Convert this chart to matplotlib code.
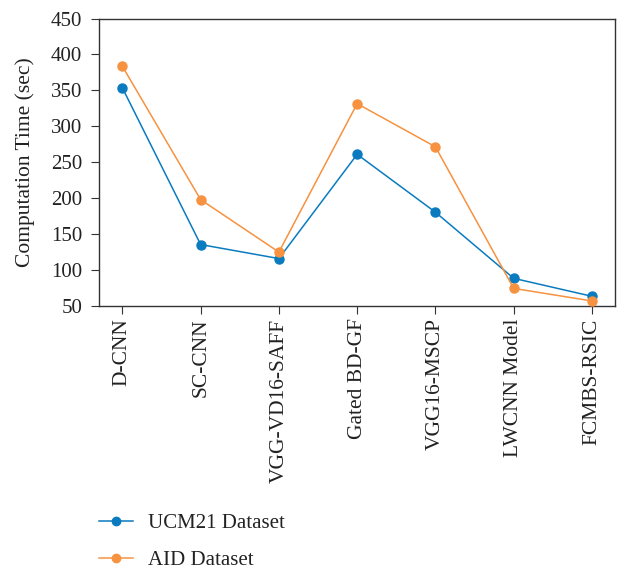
import matplotlib
matplotlib.use("Agg")
import matplotlib.pyplot as plt
from matplotlib.lines import Line2D

categories = ["D-CNN", "SC-CNN", "VGG-VD16-SAFF", "Gated BD-GF", "VGG16-MSCP", "LWCNN Model", "FCMBS-RSIC"]
ucm21 = [353.5, 135.5, 116, 261, 180.5, 88.5, 63.5]
aid = [383.5, 198, 125, 331.5, 271.5, 74.5, 57]
series_names = ["UCM21 Dataset", "AID Dataset"]

plt.rcParams['font.family'] = ['Liberation Serif', 'DejaVu Serif']

fig = plt.figure(figsize=(6.22, 5.71), dpi=100)
ax = fig.add_axes([0.159, 0.4641, 0.8304, 0.5035])

blue = "#0a7bbf"
orange = "#f69240"
x = list(range(len(categories)))
ax.plot(x, ucm21, color=blue, marker='o', markersize=6.5, linewidth=1.1, label=series_names[0], zorder=3)
ax.plot(x, aid, color=orange, marker='o', markersize=6.5, linewidth=1.1, label=series_names[1], zorder=3)

ax.set_xlim(-0.3, 6.3)
ax.set_ylim(50, 450)
ax.set_yticks(range(50, 451, 50))
ax.set_xticks(x)
ax.set_xticklabels(categories, rotation=90, fontsize=15.5)
ax.tick_params(axis='y', labelsize=15, direction='out', length=5.5, pad=6.5, color='#333333')
ax.tick_params(axis='x', direction='out', length=5.5, color='#333333')
for t in ax.get_xticklabels() + ax.get_yticklabels():
    t.set_color('#222222')
for s in ax.spines.values():
    s.set_color('#333333')
    s.set_linewidth(1.0)
ax.set_ylabel("Computation Time (sec)", fontsize=15.5, color='#222222', labelpad=11.5)

handles = [Line2D([0], [0], color=blue, marker='o', markersize=6, linewidth=1.1),
           Line2D([0], [0], color=orange, marker='o', markersize=6, linewidth=1.1)]
fig.legend(handles, series_names, loc='upper left', bbox_to_anchor=(99 / 622, 0.101),
           frameon=False, fontsize=15, handlelength=1.63, labelspacing=0.86, handletextpad=0.72,
           borderpad=0, borderaxespad=0, labelcolor='#222222')

fig.savefig("out.png", dpi=100)
